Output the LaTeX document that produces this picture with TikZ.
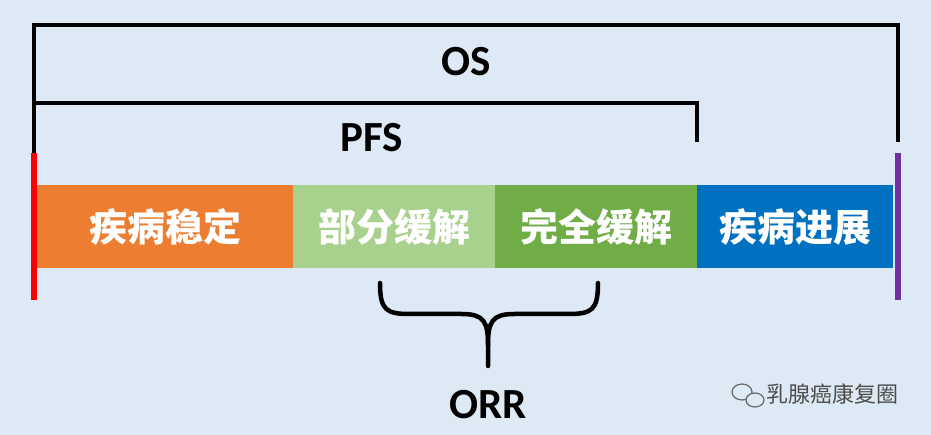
\documentclass[tikz,border=0pt]{standalone}
\usepackage{fontspec}
\setmainfont{Carlito}
\newfontfamily\cjk{Noto Sans CJK SC}
\definecolor{bg}{RGB}{221,234,246}
\definecolor{cor}{RGB}{237,125,49}
\definecolor{clg}{RGB}{169,209,142}
\definecolor{cg}{RGB}{112,173,71}
\definecolor{cb}{RGB}{0,112,192}
\definecolor{cpu}{RGB}{112,48,160}
\begin{document}
\begin{tikzpicture}[x=1pt,y=-1pt,
 seg/.style={draw=none,minimum height=83pt,inner sep=0pt,text=white,font=\cjk\bfseries\fontsize{38}{38}\selectfont},
 br/.style={line width=4.5pt,black},
 lab/.style={font=\bfseries\fontsize{43}{43}\selectfont}]
\fill[bg] (0,0) rectangle (931,435);
\useasboundingbox (0,0) rectangle (931,435);
\node[seg,fill=cor,minimum width=256pt,anchor=north west] (sd) at (37,185) {疾病稳定};
\node[seg,fill=clg,minimum width=202pt,anchor=north west] (pr) at (293,185) {部分缓解};
\node[seg,fill=cg,minimum width=202pt,anchor=north west] (cr) at (495,185) {完全缓解};
\node[seg,fill=cb,minimum width=196pt,anchor=north west] (pd) at (697,185) {疾病进展};
\coordinate (lt) at (34,153); \coordinate (lb) at (34,300);
\coordinate (rt) at (898,153); \coordinate (rb) at (898,300);
\draw[line width=6pt,red] (lt) -- (lb);
\draw[line width=6pt,cpu] (rt) -- (rb);
\coordinate (a) at (34,25); \coordinate (b) at (898,25); \coordinate (c) at (898,142);
\draw[br] (lt) -- (a) -- (b) -- (c);
\coordinate (d) at (34,103); \coordinate (e) at (697,103); \coordinate (f) at (697,142);
\draw[br] (d) -- (e) -- (f);
\node[lab] (os) at (466,62) {OS};
\node[lab] (pfs) at (372,138) {PFS};
\draw[br,line cap=round] (380,283) .. controls (380,310) and (386,314) .. (410,314) -- (462,314) .. controls (484,314) and (488,322) .. (488,345) -- (488,366);
\draw[br,line cap=round] (598,283) .. controls (598,310) and (592,314) .. (568,314) -- (514,314) .. controls (492,314) and (488,322) .. (488,345);
\node[lab] (orr) at (488,405) {ORR};
\draw[gray!80!black,line width=1.2pt] (742,392) ellipse (10pt and 8pt);
\draw[gray!80!black,line width=1.2pt,fill=bg] (755,400) ellipse (9pt and 7pt);
\node[font=\cjk\fontsize{22}{22}\selectfont,text=gray!60!black,anchor=west] (wm) at (763,394) {乳腺癌康复圈};
\end{tikzpicture}
\end{document}
